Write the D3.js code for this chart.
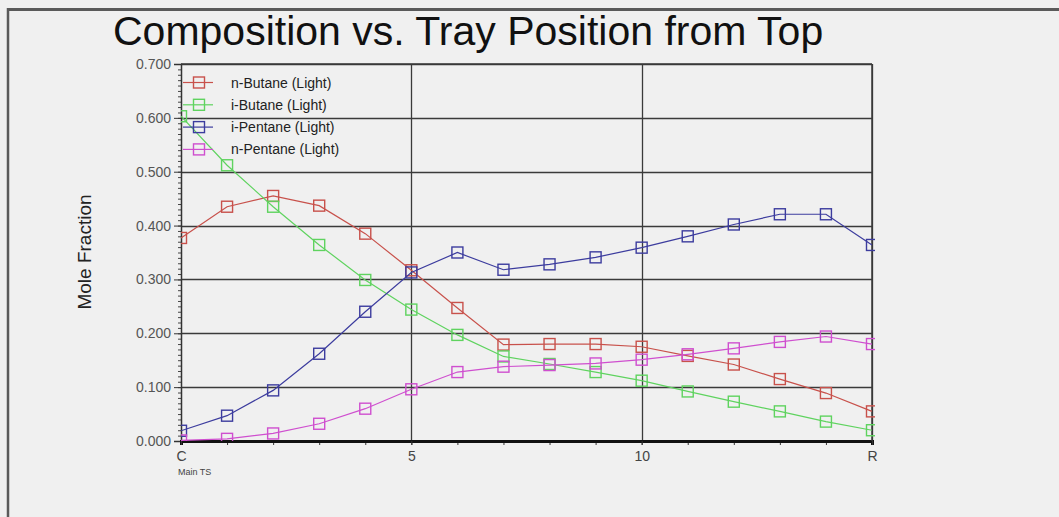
<!DOCTYPE html>
<html>
<head>
<meta charset="utf-8">
<script src="https://cdn.jsdelivr.net/npm/d3@7"></script>
<style>
  html, body { margin: 0; padding: 0; background: #f0f0f0; }
  svg { display: block; }
  text { font-family: "Liberation Sans", Arial, sans-serif; }
</style>
</head>
<body>
<svg id="chart" width="1059" height="517"></svg>
<script>
// Tray positions from condenser (C) to reboiler (R)
const trays = [0, 1, 2, 3, 4, 5, 6, 7, 8, 9, 10, 11, 12, 13, 14, 15];
const xTickValues = [0, 5, 10, 15];
const xTickLabels = ["C", "5", "10", "R"];
const yTickValues = [0, 0.1, 0.2, 0.3, 0.4, 0.5, 0.6, 0.7];

const seriesNames = ["n-Butane (Light)", "i-Butane (Light)", "i-Pentane (Light)", "n-Pentane (Light)"];
const seriesColors = ["#c8514b", "#5fd35f", "#3c3c9e", "#cf4fcf"];

const nButane  = [0.377, 0.435, 0.455, 0.437, 0.385, 0.317, 0.247, 0.179, 0.180, 0.180, 0.175, 0.158, 0.142, 0.115, 0.089, 0.055];
const iButane  = [0.603, 0.512, 0.435, 0.364, 0.299, 0.244, 0.197, 0.157, 0.143, 0.128, 0.112, 0.092, 0.073, 0.055, 0.036, 0.020];
const iPentane = [0.019, 0.047, 0.094, 0.162, 0.240, 0.313, 0.350, 0.318, 0.328, 0.341, 0.359, 0.380, 0.402, 0.421, 0.421, 0.364];
const nPentane = [0.001, 0.004, 0.014, 0.032, 0.060, 0.096, 0.128, 0.138, 0.141, 0.144, 0.151, 0.161, 0.172, 0.184, 0.194, 0.180];

const seriesValues = [nButane, iButane, iPentane, nPentane];

const svg = d3.select("#chart");

// Outer frame (top and left edges)
svg.append("line").attr("x1", 7).attr("x2", 1059).attr("y1", 9.5).attr("y2", 9.5)
  .attr("stroke", "#5a5a5a").attr("stroke-width", 3);
svg.append("line").attr("x1", 8).attr("x2", 8).attr("y1", 8).attr("y2", 517)
  .attr("stroke", "#5a5a5a").attr("stroke-width", 2.5);

const x = d3.scaleLinear().domain([0, 15]).range([181, 872]);
const y = d3.scaleLinear().domain([0, 0.7]).range([441, 64]);

// Title
svg.append("text")
  .attr("x", 113).attr("y", 44.5)
  .attr("font-size", 41).attr("fill", "#111")
  .text("Composition vs. Tray Position from Top");

// Y axis title
svg.append("text")
  .attr("transform", "translate(91,252) rotate(-90)")
  .attr("text-anchor", "middle")
  .attr("font-size", 19).attr("fill", "#222")
  .text("Mole Fraction");

// Horizontal grid lines
svg.append("g").selectAll("line")
  .data(yTickValues.filter(v => v > 0))
  .join("line")
  .attr("x1", x(0)).attr("x2", x(15))
  .attr("y1", d => Math.round(y(d)) + 0.5).attr("y2", d => Math.round(y(d)) + 0.5)
  .attr("stroke", "#3a3a3a").attr("stroke-width", 1.3);

// Vertical grid lines
svg.append("g").selectAll("line")
  .data(xTickValues.filter(v => v > 0))
  .join("line")
  .attr("x1", d => Math.round(x(d)) + 0.5).attr("x2", d => Math.round(x(d)) + 0.5)
  .attr("y1", y(0.7)).attr("y2", y(0))
  .attr("stroke", "#3a3a3a").attr("stroke-width", 1.3);

// Left axis: major ticks with labels, minor ticks every 0.01
const yMinor = d3.axisLeft(y).ticks(70).tickSize(3).tickFormat("");
const gMinor = svg.append("g").attr("transform", `translate(${x(0)},0)`).call(yMinor);
gMinor.select(".domain").remove();
gMinor.selectAll("line").attr("stroke", "#444");

const yAxis = d3.axisLeft(y).tickValues(yTickValues).tickSize(7).tickPadding(3)
  .tickFormat(d3.format(".3f"));
const gy = svg.append("g").attr("transform", `translate(${x(0)},0)`).call(yAxis);
gy.select(".domain").attr("stroke", "#333").attr("stroke-width", 1.5);
gy.selectAll("line").attr("stroke", "#333");
gy.selectAll("text").attr("font-size", 14).attr("fill", "#555")
  .attr("font-family", "'Liberation Sans', Arial, sans-serif");

// Bottom axis: ticks at every tray, labels at C, 5, 10, R
const xMinor = d3.axisBottom(x).tickValues(trays).tickSize(4).tickFormat("");
const gxm = svg.append("g").attr("transform", `translate(0,${y(0)})`).call(xMinor);
gxm.select(".domain").remove();
gxm.selectAll("line").attr("stroke", "#333");

const xAxis = d3.axisBottom(x).tickValues(xTickValues).tickSize(4).tickPadding(6)
  .tickFormat((d, i) => xTickLabels[i]);
const gx = svg.append("g").attr("transform", `translate(0,${y(0)})`).call(xAxis);
gx.select(".domain").attr("stroke", "#111").attr("stroke-width", 3);
gx.selectAll("line").attr("stroke", "#333");
gx.selectAll("text").attr("font-size", 14).attr("fill", "#444")
  .attr("font-family", "'Liberation Sans', Arial, sans-serif");

svg.append("text").attr("x", x(0) - 3).attr("y", 475)
  .attr("font-size", 9).attr("fill", "#444").text("Main TS");

// Top and right frame of plot area
svg.append("line").attr("x1", x(0)).attr("x2", x(15)).attr("y1", y(0.7)).attr("y2", y(0.7))
  .attr("stroke", "#3a3a3a").attr("stroke-width", 1.5);
svg.append("line").attr("x1", x(15)).attr("x2", x(15)).attr("y1", y(0.7)).attr("y2", y(0))
  .attr("stroke", "#3a3a3a").attr("stroke-width", 1.5);

// Clip series to the plot area
svg.append("clipPath").attr("id", "plotClip")
  .append("rect").attr("x", x(0)).attr("y", y(0.7) - 8)
  .attr("width", x(15) - x(0) + 3).attr("height", y(0) - y(0.7) + 8);

const plot = svg.append("g").attr("clip-path", "url(#plotClip)");
const line = d3.line().x((d, i) => x(trays[i])).y(d => y(d));
const markerSize = 11;

seriesValues.forEach((vals, s) => {
  const g = plot.append("g");
  g.append("path").datum(vals)
    .attr("d", line).attr("fill", "none")
    .attr("stroke", seriesColors[s]).attr("stroke-width", 1.2);
  g.selectAll("rect").data(vals).join("rect")
    .attr("x", (d, i) => x(trays[i]) - markerSize / 2)
    .attr("y", d => y(d) - markerSize / 2)
    .attr("width", markerSize).attr("height", markerSize)
    .attr("fill", "none").attr("stroke", seriesColors[s]).attr("stroke-width", 1.4);
});

// Legend
const legend = svg.append("g");
seriesNames.forEach((name, s) => {
  const cy = 82.5 + s * 22.3;
  legend.append("line").attr("x1", 183).attr("x2", 213).attr("y1", cy).attr("y2", cy)
    .attr("stroke", seriesColors[s]).attr("stroke-width", 1.2);
  legend.append("rect").attr("x", 199 - 5.5).attr("y", cy - 5.5)
    .attr("width", 11).attr("height", 11)
    .attr("fill", "none").attr("stroke", seriesColors[s]).attr("stroke-width", 1.4);
  legend.append("text").attr("x", 231).attr("y", cy + 5)
    .attr("font-size", 14).attr("fill", "#222").text(name);
});
</script>
</body>
</html>
